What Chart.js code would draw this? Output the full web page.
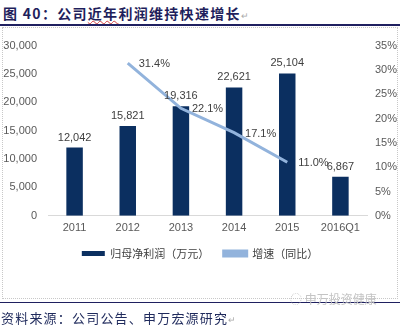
<!DOCTYPE html>
<html>
<head>
<meta charset="utf-8">
<script src="https://cdn.jsdelivr.net/npm/chart.js@4"></script>
<style>
  body { margin: 0; width: 400px; height: 328px; background: #fff; position: relative; overflow: hidden; font-family: "Noto Sans CJK SC", sans-serif; }
  #title { position: absolute; left: 3px; top: 3px; font-size: 14px; letter-spacing: 1.3px; font-weight: bold; color: #1f1f5c; white-space: nowrap; line-height: 20px; }
  #title .wavy { text-decoration: underline wavy #d04040; text-underline-offset: 1px; text-decoration-thickness: 1px; }
  #title .mark { color: #aaa; font-weight: normal; font-size: 9px; }
  #rule1 { position: absolute; left: 0; top: 24px; width: 400px; height: 2px; background: #1f2060; }
  #box { position: absolute; left: 2px; top: 27px; width: 394px; height: 270px; border: 1px dotted #c8c8c8; }
  #wrap { position: absolute; left: 2px; top: 28px; }
  #rule2 { position: absolute; left: 0; top: 302px; width: 400px; height: 1px; background: #1f2060; }
  #source { position: absolute; left: 1px; top: 308px; font-size: 13px; letter-spacing: 1.2px; color: #1f2a5c; white-space: nowrap; }
  #source .mark { color: #aaa; font-size: 9px; }
  #wm { position: absolute; left: 290px; top: 290px; font-size: 12px; color: #c4c4c4; white-space: nowrap; }
</style>
</head>
<body>
<div id="title">图 40：公司<span class="wavy">近年</span>利润维持快速增长<span class="mark">↵</span></div>
<div id="rule1"></div>
<div id="box"></div>
<div id="wrap"><canvas id="chart" width="396" height="264"></canvas></div>
<div id="rule2"></div>
<div id="wm">◌ 申万投资健康</div>
<div id="source">资料来源：公司公告、申万宏源研究<span class="mark">↵</span></div>
<script>
// chart data
const years = ['2011', '2012', '2013', '2014', '2015', '2016Q1'];
const netProfit = [12042, 15821, 19316, 22621, 25104, 6867];
const growth = [null, 31.4, 22.1, 17.1, 11.0, null];
const leftTicks = [0, 5000, 10000, 15000, 20000, 25000, 30000];
const rightTicks = [0, 5, 10, 15, 20, 25, 30, 35];

const barColor = '#0b2f60';
const lineColor = '#92b3dc';
const labelFont = '11px "Liberation Sans", Arial, sans-serif';

// draw value labels on bars and line points
const valueLabels = {
    id: 'valueLabels',
    afterDatasetsDraw(chart) {
        const ctx = chart.ctx;
        ctx.save();
        ctx.font = labelFont;
        ctx.fillStyle = '#404040';
        ctx.textBaseline = 'middle';
        chart.getDatasetMeta(0).data.forEach((bar, i) => {
            ctx.textAlign = 'center';
            ctx.fillText(netProfit[i].toLocaleString('en-US'), bar.x, bar.y - 10);
        });
        chart.getDatasetMeta(1).data.forEach((pt, i) => {
            if (growth[i] == null) return;
            ctx.textAlign = 'left';
            ctx.fillText(growth[i].toFixed(1) + '%', pt.x + 11, pt.y + 1);
        });
        ctx.restore();
    }
};

new Chart(document.getElementById('chart'), {
    type: 'bar',
    data: {
        labels: years,
        datasets: [
            {
                label: '归母净利润（万元）   ',
                data: netProfit,
                backgroundColor: barColor,
                barPercentage: 0.31,
                categoryPercentage: 1,
                yAxisID: 'y',
                order: 2
            },
            {
                type: 'line',
                label: '增速（同比）',
                data: growth,
                borderColor: lineColor,
                backgroundColor: lineColor,
                borderWidth: 3,
                pointRadius: 0,
                fill: false,
                yAxisID: 'y1',
                order: 1
            }
        ]
    },
    options: {
        responsive: false,
        animation: false,
        layout: { padding: { top: 12, bottom: 23, left: 0, right: 0 } },
        plugins: {
            tooltip: { enabled: false },
            legend: {
                position: 'bottom',
                labels: {
                    boxWidth: 23,
                    boxHeight: 5,
                    padding: 7,
                    color: '#404040',
                    font: { size: 11, family: '"Noto Sans CJK SC", sans-serif' },
                    sort: (a, b) => a.datasetIndex - b.datasetIndex
                }
            }
        },
        scales: {
            x: {
                grid: { display: false, drawTicks: false },
                border: { color: '#d9d9d9', width: 1 },
                ticks: { color: '#595959', font: { size: 11, family: '"Liberation Sans", Arial' }, padding: 6 }
            },
            y: {
                position: 'left',
                min: 0,
                max: 30000,
                afterBuildTicks: axis => { axis.ticks = leftTicks.map(v => ({ value: v })); },
                afterFit: axis => { axis.width = 46; },
                grid: { display: false, drawTicks: false },
                border: { display: false },
                ticks: {
                    color: '#595959',
                    font: { size: 11, family: '"Liberation Sans", Arial' },
                    padding: 11,
                    callback: v => v.toLocaleString('en-US')
                }
            },
            y1: {
                position: 'right',
                min: 0,
                max: 35,
                afterBuildTicks: axis => { axis.ticks = rightTicks.map(v => ({ value: v })); },
                afterFit: axis => { axis.width = 31; },
                grid: { display: false, drawTicks: false },
                border: { display: false },
                ticks: {
                    color: '#595959',
                    font: { size: 11, family: '"Liberation Sans", Arial' },
                    padding: 8,
                    callback: v => v + '%'
                }
            }
        }
    },
    plugins: [valueLabels]
});
</script>
</body>
</html>
